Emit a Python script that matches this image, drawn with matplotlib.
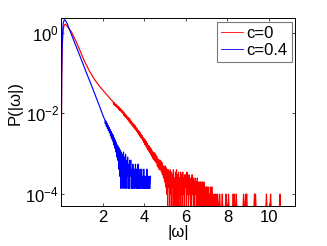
import numpy as np
import matplotlib
matplotlib.use("Agg")
import matplotlib.pyplot as plt

plt.rcParams['font.family'] = ['Liberation Sans', 'DejaVu Sans']
plt.rcParams['mathtext.default'] = 'regular'

# ---------------- data ----------------
# smooth head of each histogram: |omega| and probability density
red_head_x = [0.005, 0.03, 0.06, 0.10, 0.15, 0.20, 0.27, 0.41, 0.49, 0.70, 0.90, 1.10, 1.35, 1.60, 1.85, 2.10, 2.35]
red_head_y = [5e-4, 0.08, 0.5, 1.2, 1.55, 1.63, 1.5, 1.18, 1.07, 0.64, 0.37, 0.21, 0.115, 0.070, 0.047, 0.033, 0.0235]

blue_head_x = [0.005, 0.03, 0.06, 0.10, 0.15, 0.20, 0.28, 0.41, 0.60, 0.90, 1.20, 1.50, 1.87, 2.05]
blue_head_y = [1e-3, 0.15, 0.8, 1.7, 2.1, 2.05, 1.75, 1.18, 0.66, 0.27, 0.107, 0.044, 0.014, 0.0079]

# noisy tails: histogram counts per bin (one count = unit density)
tail_dx = 0.025
red_tail_start = 2.50
red_unit = 5.0e-5
red_tail_counts = [
    390, 330, 372, 318, 345, 300, 338, 285, 310, 270,   # 2.50
    295, 250, 282, 236, 262, 225, 248, 210, 232, 200,   # 2.75
    218, 178, 205, 165, 190, 158, 176, 146, 162, 136,   # 3.00
    156, 124, 146, 115, 132, 108, 122, 98, 112, 92,     # 3.25
    108, 84, 100, 78, 90, 73, 84, 66, 76, 60,           # 3.50
    72, 55, 67, 51, 60, 47, 56, 42, 50, 38,             # 3.75
    47, 34, 44, 31, 40, 28, 36, 25, 32, 23,             # 4.00
    31, 21, 28, 19, 26, 17, 23, 15, 21, 14,             # 4.25
    21, 13, 19, 12, 17, 10, 15, 9, 14, 8,               # 4.50
    14, 8, 13, 7, 12, 6, 10, 5, 9, 4,                   # 4.75
    10, 3, 9, 2, 8, 1, 8, 3, 7, 1,                      # 5.00
    8, 2, 7, 1, 6, 3, 8, 1, 5, 2,                       # 5.25
    7, 1, 8, 2, 6, 1, 7, 3, 5, 1,                       # 5.50
    7, 2, 6, 1, 7, 2, 5, 1, 6, 3,                       # 5.75
    6, 1, 7, 2, 5, 1, 6, 2, 4, 1,                       # 6.00
    5, 1, 6, 2, 5, 1, 4, 1, 5, 2,                       # 6.25
    4, 1, 5, 1, 4, 2, 1, 4, 1, 4,                       # 6.50
    3, 1, 4, 1, 3, 4, 1, 3, 1, 3,                       # 6.75
    1, 3, 1, 3, 1, 2, 1, 3, 2, 1,                       # 7.00
    3, 1, 2, 1, 0, 1, 2, 1, 2, 1,                       # 7.25
    1, 2, 1, 0, 1, 2, 1, 0, 0, 1,                       # 7.50
    2, 1, 0, 0, 1, 0, 1, 2, 1, 0,                       # 7.75
    0, 1, 2, 1, 0, 0, 0, 1, 0, 0,                       # 8.00
    1, 2, 1, 2, 1, 0, 1, 2, 1, 0,                       # 8.25
    0, 1, 0, 0, 0, 0, 1, 0, 0, 0,                       # 8.50
    1, 2, 1, 0, 1, 2, 1, 2, 1, 0,                       # 8.75
    0, 1, 0, 0, 0, 0, 0, 1, 0, 0,                       # 9.00
    0, 1, 2, 1, 2, 1, 0, 0, 0, 0,                       # 9.25
    1, 0, 0, 1, 0, 0, 0, 0, 0, 0,                       # 9.50
    0, 1, 0, 0, 1, 2, 1, 0, 0, 0,                       # 9.75
    0, 0, 1, 2, 1, 0, 0, 0, 0, 0,                       # 10.00
    0, 1, 0, 0, 0, 0, 1, 0, 0, 0,                       # 10.25
    1, 2, 1, 0, 0, 0, 0, 0, 0, 0,                       # 10.50
]

blue_tail_start = 2.10
blue_unit = 1.38e-4
blue_tail_counts = [
    52, 40, 47, 35, 42, 31, 37, 27, 33, 24,   # 2.10
    29, 20, 26, 17, 23, 15, 21, 12, 18, 10,   # 2.35
    16, 8, 14, 6, 12, 5, 11, 3, 10, 2,        # 2.60
    9, 1, 8, 2, 7, 1, 8, 2, 6, 1,             # 2.85
    7, 1, 5, 2, 6, 1, 4, 1, 5, 2,             # 3.10
    5, 1, 3, 1, 4, 2, 1, 3, 1, 4,             # 3.35
    2, 1, 3, 1, 4, 1, 2, 1, 3, 1,             # 3.60
    2, 3, 1, 2, 1, 3, 1, 2, 1, 2,             # 3.85
    1, 3, 1, 2, 1, 2, 1, 1, 2,                # 4.10
]

labels = ['c=0', 'c=0.4']
x_ticks = [2, 4, 6, 8, 10]
y_ticks = [1e-4, 1e-2, 1e0]


def build(head_x, head_y, start, counts, unit):
    c = np.asarray(counts, dtype=float)
    tx = start + tail_dx * np.arange(len(c))
    ty = np.where(c > 0, c * unit, np.nan)
    return np.concatenate([head_x, tx]), np.concatenate([head_y, ty])


rx, ry = build(red_head_x, red_head_y, red_tail_start, red_tail_counts, red_unit)
bx, by = build(blue_head_x, blue_head_y, blue_tail_start, blue_tail_counts, blue_unit)

fig = plt.figure(figsize=(3.27, 2.46), dpi=100)
ax = fig.add_axes([0.1869, 0.1646, 0.7153, 0.7622])

ax.plot(rx, ry, color='#ff0000', lw=0.85, label=labels[0])
ax.plot(bx, by, color='#0000ff', lw=0.85, label=labels[1])

ax.set_yscale('log')
ax.set_xlim(0, 11.25)
ax.set_ylim(5.2e-5, 2.32)
ax.set_xticks(x_ticks)
ax.set_xticklabels([str(t) for t in x_ticks])
ax.set_yticks(y_ticks)
ax.yaxis.set_minor_locator(matplotlib.ticker.NullLocator())
ax.tick_params(which='both', direction='in', length=2.5, width=0.5,
               top=True, right=True, labelsize=12, pad=3)
ax.tick_params(axis='y', pad=1.5)
for s in ax.spines.values():
    s.set_linewidth(0.7)

ax.set_xlabel('|ω|', fontsize=12, labelpad=0)
ax.set_ylabel('P(|ω|)', fontsize=12, labelpad=5)
ax.yaxis.set_label_coords(-0.165, 0.545)

leg = ax.legend(loc='upper right', bbox_to_anchor=(0.987, 0.979), borderaxespad=0,
                fontsize=12, frameon=True, fancybox=False, handlelength=1.35,
                handletextpad=0.2, labelspacing=0.1, borderpad=0.25)
leg.get_frame().set_edgecolor('0.35')
leg.get_frame().set_linewidth(0.8)
for h in leg.get_lines():
    h.set_linewidth(0.6)

fig.savefig('out.png', dpi=100)
